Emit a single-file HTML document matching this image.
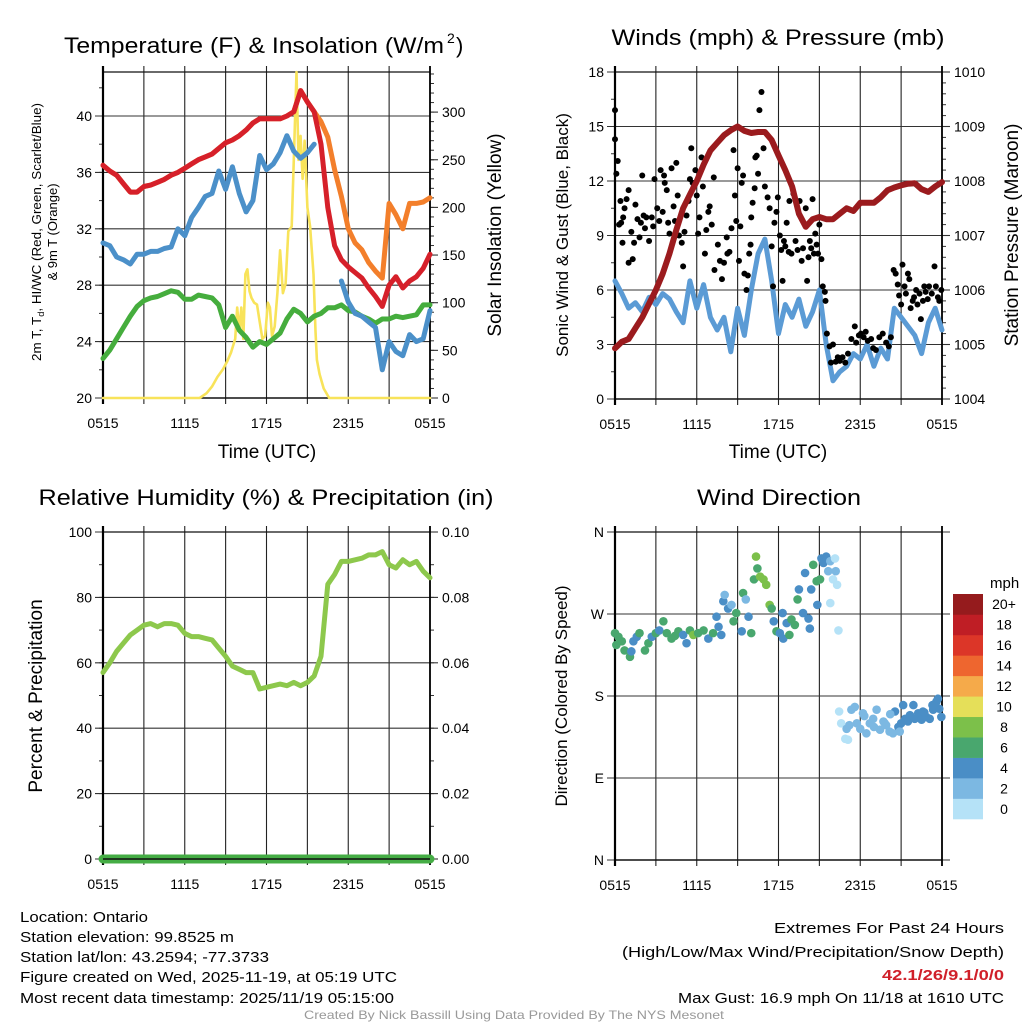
<!DOCTYPE html>
<html><head><meta charset="utf-8"><style>
html,body{margin:0;padding:0;background:#fff;}
svg{display:block;font-family:"Liberation Sans",Arial,sans-serif;}
</style></head><body>
<svg id="chart" width="1024" height="1024" viewBox="0 0 1024 1024" xmlns="http://www.w3.org/2000/svg">
<rect width="1024" height="1024" fill="#fff"/>
<g id="static" font-size="15" fill="#000">
<text x="64" y="53" font-size="22" textLength="380" lengthAdjust="spacingAndGlyphs">Temperature (F) &amp; Insolation (W/m</text>
<text x="447" y="43" font-size="14">2</text>
<text x="456" y="53" font-size="22">)</text>
<text x="778" y="45" font-size="22" text-anchor="middle" textLength="333" lengthAdjust="spacingAndGlyphs">Winds (mph) &amp; Pressure (mb)</text>
<text x="266" y="505" font-size="22" text-anchor="middle" textLength="455" lengthAdjust="spacingAndGlyphs">Relative Humidity (%) &amp; Precipitation (in)</text>
<text x="779" y="505" font-size="22" text-anchor="middle" textLength="164" lengthAdjust="spacingAndGlyphs">Wind Direction</text>
<text x="267" y="458" font-size="19" text-anchor="middle">Time (UTC)</text>
<text x="778" y="458" font-size="19" text-anchor="middle">Time (UTC)</text>
<text transform="translate(41,232) rotate(-90)" font-size="13" text-anchor="middle" textLength="258" lengthAdjust="spacingAndGlyphs">2m T, T<tspan font-size="9" dy="3">d</tspan><tspan dy="-3">, HI/WC (Red, Green, Scarlet/Blue)</tspan></text>
<text transform="translate(57,232) rotate(-90)" font-size="13" text-anchor="middle">&amp; 9m T (Orange)</text>
<text transform="translate(501,235) rotate(-90)" font-size="19" text-anchor="middle">Solar Insolation (Yellow)</text>
<text transform="translate(568,235) rotate(-90)" font-size="17" text-anchor="middle">Sonic Wind &amp; Gust (Blue, Black)</text>
<text transform="translate(1018,235) rotate(-90)" font-size="19" text-anchor="middle">Station Pressure (Maroon)</text>
<text transform="translate(42,696) rotate(-90)" font-size="19" text-anchor="middle">Percent &amp; Precipitation</text>
<text transform="translate(567,696) rotate(-90)" font-size="17" text-anchor="middle">Direction (Colored By Speed)</text>
<text x="990" y="588" font-size="15">mph</text>
<g font-size="15">
<text x="20" y="922" textLength="128" lengthAdjust="spacingAndGlyphs">Location: Ontario</text>
<text x="20" y="942" textLength="214" lengthAdjust="spacingAndGlyphs">Station elevation: 99.8525 m</text>
<text x="20" y="962" textLength="249" lengthAdjust="spacingAndGlyphs">Station lat/lon: 43.2594; -77.3733</text>
<text x="20" y="982" textLength="377" lengthAdjust="spacingAndGlyphs">Figure created on Wed, 2025-11-19, at 05:19 UTC</text>
<text x="20" y="1003" textLength="374" lengthAdjust="spacingAndGlyphs">Most recent data timestamp: 2025/11/19 05:15:00</text>
</g>
<g font-size="15" text-anchor="end">
<text x="1004" y="933" textLength="230" lengthAdjust="spacingAndGlyphs">Extremes For Past 24 Hours</text>
<text x="1004" y="957" textLength="382" lengthAdjust="spacingAndGlyphs">(High/Low/Max Wind/Precipitation/Snow Depth)</text>
<text x="1004" y="980" fill="#d0202a" font-weight="bold" textLength="122" lengthAdjust="spacingAndGlyphs">42.1/26/9.1/0/0</text>
<text x="1004" y="1003" textLength="326" lengthAdjust="spacingAndGlyphs">Max Gust: 16.9 mph On 11/18 at 1610 UTC</text>
</g>
<text x="514" y="1019" font-size="12" fill="#999" text-anchor="middle" textLength="420" lengthAdjust="spacingAndGlyphs">Created By Nick Bassill Using Data Provided By The NYS Mesonet</text>
</g>
</svg>
<script>
// ---------- data ----------
const xTickLabels = ["0515","1115","1715","2315","0515"];
const halfHourTimes = [];
for (let i = 0; i <= 48; i++) halfHourTimes.push(i / 2);
const temp2mRed = [36.5,36.1,35.8,35.2,34.6,34.6,35.0,35.1,35.3,35.5,35.8,36.0,36.3,36.6,36.9,37.1,37.3,37.7,38.1,38.3,38.6,39.0,39.5,39.8,39.8,39.8,39.8,40.0,40.3,41.8,41.0,40.3,38.0,33.5,30.8,29.8,29.3,28.9,28.5,27.8,27.2,26.5,28.0,28.6,27.8,28.3,28.6,29.2,30.2];
const temp9mOrange = [36.5,36.1,35.8,35.2,34.6,34.6,35.0,35.1,35.3,35.5,35.8,36.0,36.3,36.6,36.9,37.1,37.3,37.7,38.1,38.3,38.6,39.0,39.5,39.8,39.8,39.8,39.8,40.0,40.3,41.8,41.0,40.3,39.6,38.5,36.2,34.3,32.0,31.0,30.5,29.6,29.0,28.5,33.8,33.0,32.0,33.8,33.8,33.9,34.2];
const heatIndexBlue = [31.0,30.8,30.0,29.8,29.5,30.2,30.2,30.4,30.4,30.6,30.7,32.0,31.5,32.8,33.5,34.3,34.5,36.1,34.8,36.4,34.5,33.2,34.0,37.2,36.2,36.6,37.4,38.6,37.5,37.0,37.4,38.0,null,null,null,28.3,26.8,26.0,25.8,25.4,25.0,22.0,24.0,23.3,23.0,24.5,24.0,24.2,26.2];
const dewpointGreen = [22.8,23.4,24.2,25.0,25.8,26.5,26.9,27.1,27.2,27.4,27.6,27.5,27.0,27.0,27.3,27.2,27.1,26.6,25.0,25.8,24.8,24.3,23.6,24.0,23.8,24.2,24.6,25.6,26.3,26.0,25.4,25.8,26.0,26.4,26.4,26.6,26.2,26.1,25.8,25.6,25.3,25.6,25.6,25.8,25.7,25.8,25.9,26.6,26.6];
const solarTimes = [0,7.1,7.6,8.0,8.4,8.8,9.1,9.4,9.7,9.85,10.0,10.15,10.3,10.45,10.6,10.75,10.9,11.1,11.3,11.5,11.7,11.9,12.1,12.25,12.4,12.6,12.8,13.0,13.2,13.4,13.6,13.85,14.0,14.2,14.35,14.5,14.65,14.8,15.0,15.2,15.45,15.6,15.7,15.9,16.2,16.6,24];
const solarValues = [0,0,5,12,22,30,38,48,62,95,70,95,62,130,135,112,105,100,98,80,62,65,100,95,65,75,110,155,110,120,175,180,250,342,250,275,230,270,200,180,130,70,40,25,10,0,0];
const pressureValues = [1004.93,1005.05,1005.1,1005.3,1005.5,1005.75,1006.0,1006.3,1006.67,1007.1,1007.5,1007.75,1008.0,1008.3,1008.56,1008.7,1008.84,1008.93,1009.0,1008.92,1008.88,1008.9,1008.9,1008.75,1008.47,1008.2,1007.9,1007.4,1007.16,1007.3,1007.34,1007.3,1007.3,1007.4,1007.5,1007.45,1007.6,1007.6,1007.6,1007.7,1007.83,1007.88,1007.92,1007.95,1007.96,1007.85,1007.8,1007.9,1007.98];
const windSpeedValues = [6.5,5.8,5.0,5.3,4.8,5.6,5.2,5.8,5.5,4.8,4.2,6.5,5.0,6.3,4.5,3.8,4.5,2.6,5.0,3.5,6.0,8.0,8.8,6.5,3.6,5.2,4.5,5.5,4.0,4.8,6.0,3.0,1.0,1.5,1.8,2.5,2.2,3.0,1.8,2.8,2.2,5.0,4.5,4.0,3.5,2.5,4.2,5.0,3.8];
const gustTimes = [0,0,0.2,0.1,0.3,0.45,0.4,0.55,0.6,0.7,0.85,1.0,1.0,1.2,1.3,1.4,1.5,1.65,1.8,1.9,2.0,2.1,2.2,2.3,2.5,2.7,2.8,2.9,3.1,3.25,3.35,3.5,3.6,3.65,3.8,3.9,4.0,4.15,4.3,4.4,4.5,4.6,4.7,4.9,5.0,5.1,5.25,5.4,5.5,5.6,5.7,5.9,6.0,6.1,6.2,6.35,6.45,6.6,6.7,6.85,6.95,7.1,7.25,7.3,7.55,7.7,7.85,8.0,8.2,8.25,8.4,8.55,8.7,8.8,8.9,9.0,9.1,9.2,9.3,9.4,9.5,9.65,9.75,9.85,9.95,10.0,10.1,10.25,10.3,10.4,10.5,10.6,10.75,10.8,10.9,11.0,11.2,11.35,11.5,11.6,11.7,11.85,11.95,12.1,12.2,12.3,12.4,12.5,12.6,12.75,12.8,12.95,13.1,13.25,13.4,13.55,13.7,13.8,14.0,14.1,14.2,14.3,14.4,14.5,14.6,14.7,14.8,14.9,15.0,15.15,15.25,15.4,15.45,15.55,15.75,15.85,16.0,16.2,16.35,16.5,16.7,16.9,17.1,17.35,17.6,17.7,17.9,18.05,18.25,18.4,18.55,18.8,18.95,19.15,19.4,19.65,19.9,20.1,20.25,20.45,20.6,20.75,20.85,21.0,21.1,21.25,21.35,21.5,21.6,21.7,21.85,21.95,22.1,22.2,22.35,22.45,22.6,22.7,22.8,22.95,23.05,23.25,23.45,23.55,23.7,23.8,23.95];
const gustValues = [15.9,14.3,13.1,12.4,9.6,9.7,10.9,8.6,10.0,10.5,11.0,7.5,11.5,9.2,7.7,8.6,10.7,9.9,8.9,9.7,12.3,10.1,9.4,10.0,8.7,10.0,9.5,12.1,10.5,9.8,12.6,10.3,12.3,11.9,11.5,9.7,9.1,12.7,10.6,9.8,13.0,11.2,9.0,8.6,7.3,9.2,10.1,10.9,12.1,13.8,11.9,12.6,11.2,9.1,10.0,13.3,11.7,8.0,9.3,10.3,10.6,9.6,12.2,7.1,8.5,7.6,6.6,7.5,8.9,8.0,8.1,9.4,13.7,11.2,9.8,12.7,7.6,9.5,11.9,12.3,6.9,6.0,6.8,8.0,8.5,10.0,10.8,11.6,13.3,13.4,12.4,15.9,16.9,14.7,13.8,11.7,11.1,10.5,8.4,6.2,9.7,10.3,11.1,9.0,8.2,6.5,8.7,8.4,9.7,8.1,10.9,8.0,11.3,8.7,8.2,10.9,7.6,8.3,10.5,6.5,7.8,8.7,8.3,11.0,8.0,9.1,8.5,8.0,9.6,7.7,6.2,5.9,5.4,3.6,2.9,2.0,3.0,2.05,2.3,2.1,2.3,2.0,2.5,3.3,4.0,3.1,3.5,3.6,3.4,3.7,3.2,3.3,2.8,2.7,3.4,3.6,3.1,2.9,3.4,7.1,6.9,6.3,5.7,5.2,7.4,6.2,5.8,6.9,6.6,5.0,5.4,5.6,6.0,5.2,5.8,4.4,5.4,6.2,5.9,5.5,6.2,5.8,7.3,6.2,5.6,5.4,6.0];
const humidityValues = [57,60,63.5,66,68.5,70,71.5,72,71,72,72,71.5,69,68,68,67.5,67,64.5,62,59,58,57,57,52,52.5,53,53.5,53,54,53,54,56,62,84,87,91,91,91.5,92,93,93,94,90,89,91.5,90,91,88,86];
const precipValues = [0,0,0,0,0,0,0,0,0,0,0,0,0,0,0,0,0,0,0,0,0,0,0,0,0,0,0,0,0,0,0,0,0,0,0,0,0,0,0,0,0,0,0,0,0,0,0,0,0];
const dirTimes = [0,0.25,0.1,0.5,0.7,1.1,1.35,1.2,1.6,1.8,2.2,2.45,2.7,3.0,3.25,3.55,3.8,4.15,4.4,4.65,5.0,5.25,5.5,5.75,6.1,6.5,6.85,7.2,7.45,7.6,7.8,7.95,8.05,8.3,8.55,8.7,8.9,9.3,9.4,9.6,9.8,10.0,10.2,10.35,10.45,10.65,10.9,11.1,11.35,11.5,11.65,11.85,12.1,12.3,12.35,12.6,12.8,12.95,13.2,13.4,13.5,13.8,13.95,14.2,14.3,14.4,14.55,14.8,14.85,15.05,15.15,15.3,15.5,15.65,15.8,16.0,16.15,16.2,16.3,15.8,16.4,16.45,16.6,16.9,17.1,17.0,17.35,17.6,17.75,18.0,18.2,18.45,18.7,18.95,19.2,19.45,19.7,19.9,20.15,20.4,20.55,20.8,20.9,21.15,21.3,21.5,21.65,21.9,22.0,22.25,22.5,22.6,22.85,23.1,23.35,23.6,23.7,23.95,23.8,17.2,18.3,19.0,19.8,20.2,21.0,22.7,23.3];
const dirValues = [249,245,236,240,230,223,240,229,245,249,230,238,245,249,252,262,249,243,246,251,247,238,252,247,249,252,243,249,267,256,247,284,291,276,280,262,271,251,293,286,267,249,308,333,320,311,308,302,280,276,262,251,249,271,243,260,247,264,258,286,297,271,315,265,254,297,324,306,280,308,331,326,333,317,328,308,331,317,302,282,252,163,150,133,132,144,165,168,150,144,161,139,150,155,165,143,152,148,141,139,163,146,141,170,155,152,159,170,155,161,154,163,157,155,165,174,177,157,166,148,158,146,150,160,150,162,170];
const dirSpeeds = [6,6,6,6,6,6,4,4,4,6,6,6,4,6,4,6,6,6,6,6,4,4,6,8,6,6,4,6,4,4,4,4,2,4,2,6,6,4,6,2,4,6,6,8,6,8,8,8,8,6,4,6,4,4,4,4,6,6,6,6,4,4,4,4,4,4,6,6,4,6,4,4,4,2,2,0,0,2,0,0,0,0,0,0,0,2,2,2,2,2,2,2,2,2,2,2,2,2,2,2,4,4,2,4,4,4,4,4,4,4,4,4,4,4,4,4,4,4,4,2,2,2,2,2,4,4,4];
const colorbarLabels = ["0","2","4","6","8","10","12","14","16","18","20+"];
const colorbarColors = ["#b5e2f7","#7cb8e2","#4a8ec6","#49a76e","#7cc04a","#e5df59","#f5aa4a","#ee662f","#dc3628","#bf1e25","#951b1d"];
const tempTicks = [20,24,28,32,36,40];
const solarTicks = [0,50,100,150,200,250,300];
const windTicks = [0,3,6,9,12,15,18];
const pressureTicks = [1004,1005,1006,1007,1008,1009,1010];
const humidityTicks = [0,20,40,60,80,100];
const precipTicks = ["0.00","0.02","0.04","0.06","0.08","0.10"];
const dirTicks = [0,90,180,270,360];
const dirTickLabels = ["N","E","S","W","N"];

// ---------- helpers ----------
const NS = "http://www.w3.org/2000/svg";
const svg = document.getElementById("chart");
function mk(tag, attrs, parent) {
  const e = document.createElementNS(NS, tag);
  for (const k in attrs) e.setAttribute(k, attrs[k]);
  (parent || svg).appendChild(e);
  return e;
}
function linScale(d0, d1, r0, r1) { return v => r0 + (v - d0) * (r1 - r0) / (d1 - d0); }

const panels = {
  temp: {x0:103, x1:430, y0:72, y1:398},
  wind: {x0:615, x1:942, y0:72, y1:399},
  rh:   {x0:103, x1:430, y0:532, y1:859},
  dir:  {x0:615, x1:942, y0:532, y1:860}
};
for (const k in panels) { const p = panels[k]; p.sx = linScale(0, 24, p.x0, p.x1); }
const tempY = linScale(20, 20 + 326/14.1, 398, 72);
const solarY = linScale(0, 326/0.953, 398, 72);
const windY = linScale(0, 18, 399, 72);
const presY = linScale(1004, 1010, 399, 72);
const rhY = linScale(0, 100, 859, 532);
const precipY = linScale(0, 0.1, 859, 532);
const dirY = linScale(0, 360, 860, 532);

function frame(p, name, leftTicks, leftLabels, leftScale, leftMinor, rightTicks, rightLabels, rightScale, rightMinor) {
  const g = mk("g", {});
  
  
  // vertical grid every 3h
  for (let h = 0; h <= 24; h += 3) {
    const x = p.sx(h);
    const ln = mk("line", {x1:x, x2:x, y1:p.y0 - 6, y2:p.y1 + 6, stroke:"#222", "stroke-width":1.1}, g);
    
    
  }
  // horizontal grid
  leftTicks.forEach((v, i) => {
    const y = leftScale(v);
    const ln = mk("line", {x1:p.x0 - 8, x2:p.x1 + (rightTicks ? 0 : 8), y1:y, y2:y, stroke:"#333", "stroke-width":1.1}, g);
    
    
    const t = mk("text", {x:p.x0 - 11, y:y + 5, "font-size":14, "text-anchor":"end"}, g);
    t.textContent = leftLabels[i];
    
    
  });
  leftMinor.forEach(v => {
    const y = leftScale(v);
    mk("line", {x1:p.x0 - 4, x2:p.x0, y1:y, y2:y, stroke:"#333", "stroke-width":1}, g);
  });
  if (rightTicks) {
    rightTicks.forEach((v, i) => {
      const y = rightScale(v);
      mk("line", {x1:p.x1, x2:p.x1 + 8, y1:y, y2:y, stroke:"#333", "stroke-width":1.1}, g);
      const t = mk("text", {x:p.x1 + 12, y:y + 5, "font-size":14}, g);
      t.textContent = rightLabels[i];
      
      
    });
    rightMinor.forEach(v => {
      const y = rightScale(v);
      mk("line", {x1:p.x1, x2:p.x1 + 4, y1:y, y2:y, stroke:"#333", "stroke-width":1}, g);
    });
  }
  // top border
  mk("line", {x1:p.x0, x2:p.x1, y1:p.y0, y2:p.y0, stroke:"#111", "stroke-width":1.2}, g);
  mk("line", {x1:p.x0, x2:p.x1, y1:p.y1, y2:p.y1, stroke:"#111", "stroke-width":1.6}, g);
  mk("line", {x1:p.x0, x2:p.x0, y1:p.y0 - 6, y2:p.y1 + 6, stroke:"#000", "stroke-width":2.2}, g);
  mk("line", {x1:p.x1, x2:p.x1, y1:p.y0 - 6, y2:p.y1 + 6, stroke:"#000", "stroke-width":1.8}, g);
  // x labels
  xTickLabels.forEach((lab, i) => {
    const t = mk("text", {x:p.sx(i * 6), y:p.y1 + 30, "font-size":14, "text-anchor":"middle"}, g);
    t.textContent = lab;
    
    
  });
  return g;
}
function range(a, b, s) { const r = []; for (let v = a; v <= b + 1e-9; v += s) r.push(+v.toFixed(4)); return r; }

frame(panels.temp, "temperature", tempTicks, tempTicks.map(String), tempY, range(22, 42, 2), solarTicks, solarTicks.map(String), solarY, range(10, 340, 10));
frame(panels.wind, "winds", windTicks, windTicks.map(String), windY, range(1.5, 18, 1.5), pressureTicks, pressureTicks.map(String), presY, range(1004.2, 1010, 0.2));
frame(panels.rh, "humidity", humidityTicks, humidityTicks.map(String), rhY, range(10, 90, 10), [0,0.02,0.04,0.06,0.08,0.1], precipTicks, precipY, range(0.01, 0.1, 0.01));
frame(panels.dir, "wind-direction", dirTicks, dirTickLabels, dirY, [], null, null, null, null);

function pathFrom(times, vals, sx, sy) {
  let d = "", pen = false;
  for (let i = 0; i < times.length; i++) {
    if (vals[i] === null) { pen = false; continue; }
    d += (pen ? "L" : "M") + sx(times[i]).toFixed(1) + "," + sy(vals[i]).toFixed(1);
    pen = true;
  }
  return d;
}
function line(name, times, vals, sx, sy, color, w) {
  const p = mk("path", {d:pathFrom(times, vals, sx, sy), fill:"none", stroke:color, "stroke-width":w, "stroke-linejoin":"round", "stroke-linecap":"round"});
  
  
  return p;
}

// Panel 1
const pt = panels.temp;
line("solar-insolation-line", solarTimes, solarValues, pt.sx, solarY, "#f8e35a", 2.6);
line("dewpoint-line", halfHourTimes, dewpointGreen, pt.sx, tempY, "#45ad3d", 5);
line("heat-index-wind-chill-line", halfHourTimes, heatIndexBlue, pt.sx, tempY, "#4b90c9", 5);
line("temp-9m-line", halfHourTimes, temp9mOrange, pt.sx, tempY, "#f37f2b", 5);
line("temp-2m-line", halfHourTimes, temp2mRed, pt.sx, tempY, "#d6202a", 5);

// Panel 2
const pw = panels.wind;
line("sonic-wind-line", halfHourTimes, windSpeedValues, pw.sx, windY, "#5b9bd5", 5);
gustTimes.forEach((t, i) => {
  const c = mk("circle", {cx:pw.sx(t), cy:windY(gustValues[i]), r:3, fill:"#000"});
  
  
});
line("station-pressure-line", halfHourTimes, pressureValues, pw.sx, presY, "#9b1b1e", 6);

// Panel 3
const pr = panels.rh;
const precip = mk("path", {d:pathFrom(halfHourTimes, precipValues, pr.sx, precipY), fill:"none", stroke:"#45ad45", "stroke-width":9, "stroke-linecap":"round"});


mk("line", {x1:pr.x0, x2:pr.x1, y1:pr.y1, y2:pr.y1, stroke:"#111", "stroke-width":1.4});
line("relative-humidity-line", halfHourTimes, humidityValues, pr.sx, rhY, "#8dc84c", 5);

// Panel 4
const pd = panels.dir;
function speedColor(s) { let idx = Math.min(10, Math.max(0, Math.floor(s / 2))); return colorbarColors[idx]; }
dirTimes.forEach((t, i) => {
  const c = mk("circle", {cx:pd.sx(t), cy:dirY(dirValues[i]), r:4.3, fill:speedColor(dirSpeeds[i])});
  
  
});
// colorbar
const cbTop = 594, cbBot = 819, cbH = (cbBot - cbTop) / colorbarColors.length;
colorbarColors.forEach((col, i) => {
  const y = cbBot - (i + 1) * cbH;
  const r = mk("rect", {x:953, y:y, width:30, height:cbH + 0.3, fill:col});
  
  
  const t = mk("text", {x:1004, y:y + cbH / 2 + 5, "font-size":14, "text-anchor":"middle"});
  t.textContent = colorbarLabels[i];
  
  
});
</script>
</body></html>
